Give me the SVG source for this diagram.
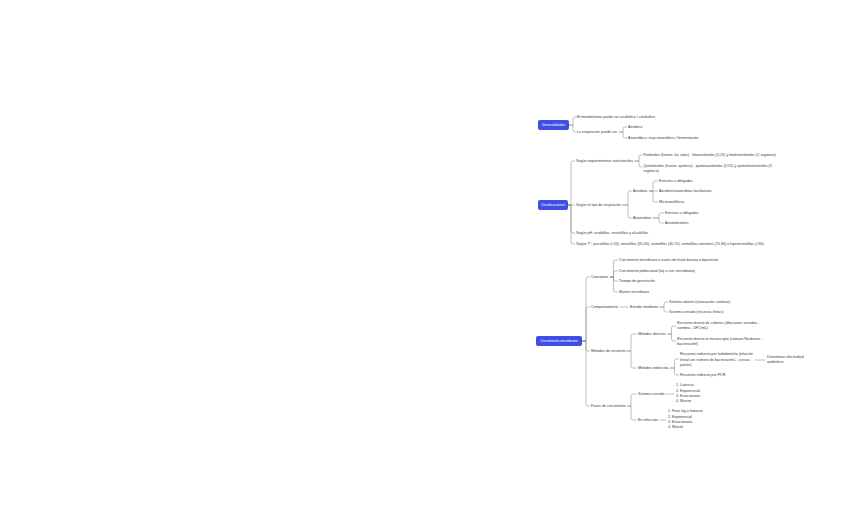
<svg xmlns="http://www.w3.org/2000/svg" width="848" height="523" viewBox="0 0 848 523">
<style>
text{font-family:"Liberation Sans",Arial,sans-serif;font-size:3.65px;fill:#3a3a3a;dominant-baseline:central}
.root rect{fill:#3f4fe4}
.root text{fill:#fff;text-anchor:middle;font-size:3.6px}
.c path{fill:none;stroke:#8a8a8a;stroke-width:0.55}
</style>
<rect width="848" height="523" fill="#fff"/>
<g class="c" id="connectors">
<path d="M569,125 H573 V119 Q573,117 575,117 H576.5"/>
<path d="M569,125 H573 V130 Q573,132 575,132 H576.5"/>
<path d="M619,132 H623 V129 Q623,127 625,127 H627"/>
<path d="M619,132 H623 V136 Q623,138 625,138 H627"/>
<path d="M568,205 H571 V163 Q571,161 573,161 H575"/>
<path d="M568,205 H575"/>
<path d="M568,205 H571 V231 Q571,233 573,233 H575"/>
<path d="M568,205 H571 V242 Q571,244 573,244 H575"/>
<path d="M634.5,161 H639 V157 Q639,155 641,155 H642.5"/>
<path d="M634.5,161 H639 V165 Q639,167 641,167 H642.5"/>
<path d="M622.5,205 H628 V193 Q628,191 630,191 H632"/>
<path d="M622.5,205 H628 V216 Q628,218 630,218 H632"/>
<path d="M649,191 H653 V183 Q653,181 655,181 H658"/>
<path d="M649,191 H658"/>
<path d="M649,191 H653 V200 Q653,202 655,202 H658"/>
<path d="M653,218 H659 V215 Q659,213 661,213 H664"/>
<path d="M653,218 H659 V221 Q659,223 661,223 H664"/>
<path d="M582,341 H586 V279 Q586,277 588,277 H590"/>
<path d="M582,341 H586 V309 Q586,307 588,307 H590"/>
<path d="M582,341 H586 V349 Q586,351 588,351 H590"/>
<path d="M582,341 H586 V404 Q586,406 588,406 H590"/>
<path d="M610,277 H613.5 V262 Q613.5,260 615.5,260 H618"/>
<path d="M610,277 H613.5 V273 Q613.5,271 615.5,271 H618"/>
<path d="M610,277 H613.5 V279 Q613.5,281 615.5,281 H618"/>
<path d="M610,277 H613.5 V290 Q613.5,292 615.5,292 H618"/>
<path d="M620,307 H628.5"/>
<path d="M659.5,307 H664 V304 Q664,302 666,302 H668"/>
<path d="M659.5,307 H664 V310 Q664,312 666,312 H668"/>
<path d="M626.5,351 H631 V336 Q631,334 633,334 H636.5"/>
<path d="M626.5,351 H631 V366 Q631,368 633,368 H636.5"/>
<path d="M667.5,334 H671.5 V328 Q671.5,326 673.5,326 H676"/>
<path d="M667.5,334 H671.5 V339 Q671.5,341 673.5,341 H676"/>
<path d="M670,368 H674.5 V361 Q674.5,359 676.5,359 H679"/>
<path d="M670,368 H674.5 V373 Q674.5,375 676.5,375 H679"/>
<path d="M755,360 H765.5"/>
<path d="M627,406 H631 V396 Q631,394 633,394 H636.5"/>
<path d="M627,406 H631 V418 Q631,420 633,420 H636.5"/>
<path d="M666,394 H674"/>
<path d="M659.5,420 H666.5"/>
</g>
<g id="generalidades" class="root"><rect x="538" y="120" width="31" height="10" rx="2"/><text x="553.5" y="125">Generalidades</text></g>
<g id="g-metabolismo"><text x="577" y="117">El metabolismo puede ser anabólico / catabólico</text></g>
<g id="g-respiracion"><text x="577" y="132">La respiración puede ser</text></g>
<g id="g-aerobica"><text x="628" y="127">Aeróbica</text></g>
<g id="g-anaerobica"><text x="628" y="138">Anaeróbica: resp anaeróbica / fermentación</text></g>

<g id="clasificaciones" class="root"><rect x="538" y="200" width="30" height="10" rx="2"/><text x="553" y="205">Clasificaciones</text></g>
<g id="c-nutricionales"><text x="576" y="161">Según requerimientos nutricionales</text></g>
<g id="c-fototrofos"><text x="643.5" y="155">Fotótrofos (fuente: luz solar) - fotoautótrofos (CO2) y fotoheterótrofos (C orgánico)</text></g>
<g id="c-quimiotrofos"><text x="643.5" y="166">Quimiótrofos (fuente: química) - quimioautótrofos (CO2) y quimioheterótrofos (C</text><text x="643.5" y="171">orgánico)</text></g>
<g id="c-respiracion"><text x="576" y="205">Según el tipo de respiración</text></g>
<g id="c-aerobios"><text x="633" y="191">Aerobios</text></g>
<g id="c-aer-estrictos"><text x="659" y="181">Estrictos u obligados</text></g>
<g id="c-aer-facultativos"><text x="659" y="191">Aerobios/anaerobios facultativos</text></g>
<g id="c-microaerofilicos"><text x="659" y="202">Microaerófilicos</text></g>
<g id="c-anaerobios"><text x="633" y="218">Anaerobios</text></g>
<g id="c-ana-estrictos"><text x="665" y="213">Estrictos u obligados</text></g>
<g id="c-aerotolerantes"><text x="665" y="223">Aerotolerantes</text></g>
<g id="c-ph"><text x="576" y="233">Según pH: acidófilos, neutrófilos y alcalófilos</text></g>
<g id="c-temp"><text x="576" y="244">Según T°: psicrófilos (&lt;20), mesófilos (20-40), termófilos (40-70), termófilos extremos (70-90) e hipertermófilos (&gt;90)</text></g>

<g id="crecimiento" class="root"><rect x="536" y="336" width="46" height="10" rx="2"/><text x="559" y="341">Crecimiento microbiano</text></g>
<g id="k-conceptos"><text x="591" y="277">Conceptos</text></g>
<g id="k-fision"><text x="619" y="260">Crecimiento microbiano a través de fisión binaria o bipartición</text></g>
<g id="k-poblacional"><text x="619" y="271">Crecimiento poblacional (eq a crec microbiano)</text></g>
<g id="k-tiempo"><text x="619" y="281">Tiempo de generación</text></g>
<g id="k-muerte"><text x="619" y="292">Muerte microbiana</text></g>
<g id="k-comportamiento"><text x="591" y="307">Comportamiento</text></g>
<g id="k-estudio"><text x="630" y="307">Estudio mediante</text></g>
<g id="k-abierto"><text x="669" y="302">Sistema abierto (renovación continua)</text></g>
<g id="k-cerrado"><text x="669" y="312">Sistema cerrado (recursos finitos)</text></g>
<g id="k-recuento"><text x="591" y="351">Métodos de recuento</text></g>
<g id="k-directos"><text x="638" y="334">Métodos directos</text></g>
<g id="k-colonias"><text x="677" y="323">Recuento directo de colonias (diluciones seriadas -</text><text x="677" y="328">siembra - UFC/mL)</text></g>
<g id="k-microscopio"><text x="677" y="339">Recuento directo al microscopio (cámara Neubauer -</text><text x="677" y="344">bacterias/ml)</text></g>
<g id="k-indirectos"><text x="638" y="368">Métodos indirectos</text></g>
<g id="k-turbidimetria"><text x="680" y="354">Recuento indirecto por turbidimetría (relación</text><text x="680" y="359.5">lineal con número de bacterias/mL - curvas</text><text x="680" y="365">patrón)</text></g>
<g id="k-antibiotico"><text x="767" y="357">Determinar efectividad</text><text x="767" y="362">antibiótico</text></g>
<g id="k-pcr"><text x="680" y="375">Recuento indirecto por PCR</text></g>
<g id="k-fases"><text x="591" y="406">Fases de crecimiento</text></g>
<g id="k-sistema-cerrado"><text x="638" y="394">Sistema cerrado</text></g>
<g id="k-lista-cerrado"><text x="676" y="385">1. Latencia</text><text x="676" y="390.5">2. Exponencial</text><text x="676" y="396">3. Estacionaria</text><text x="676" y="401">4. Muerte</text></g>
<g id="k-infeccion"><text x="638" y="420">En infección</text></g>
<g id="k-lista-infeccion"><text x="668" y="411">1. Fase lag o latencia</text><text x="668" y="416.5">2. Exponencial</text><text x="668" y="422">3. Estacionaria</text><text x="668" y="427">4. Muerte</text></g>
</svg>
